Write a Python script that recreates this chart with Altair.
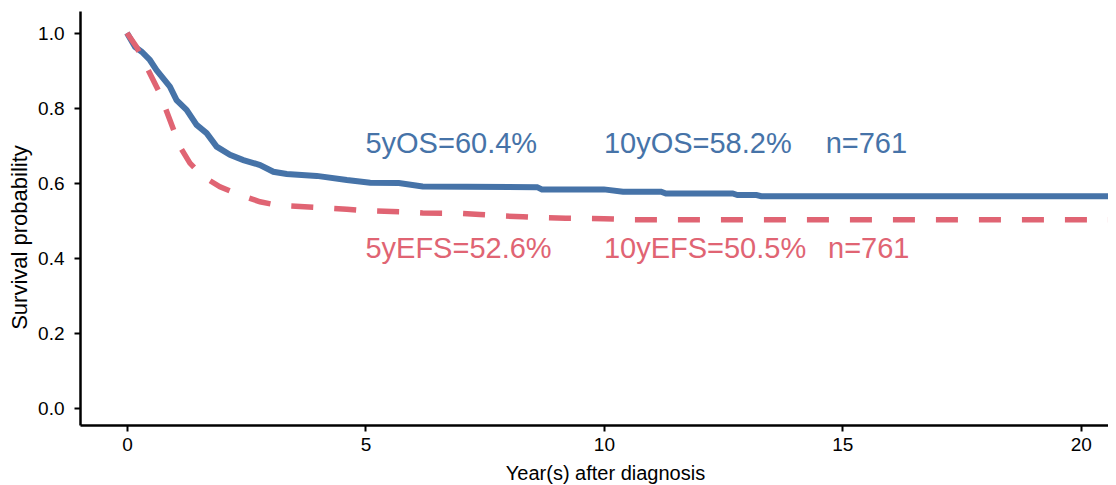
import altair as alt
import pandas as pd

# Overall survival (OS) curve
os_time = [0, 0.17, 0.31, 0.48, 0.62, 0.76, 0.90, 1.04, 1.25, 1.46, 1.67, 1.88, 2.16,
           2.44, 2.79, 3.07, 3.35, 3.98, 4.61, 5.1, 5.7, 6.2, 8.6, 8.7, 10.0, 10.4,
           11.2, 11.3, 12.7, 12.8, 13.2, 13.3, 20.6]
os_surv = [1.0, 0.963, 0.950, 0.928, 0.901, 0.879, 0.857, 0.821, 0.795, 0.755, 0.733,
           0.697, 0.675, 0.661, 0.648, 0.630, 0.624, 0.619, 0.608, 0.601, 0.600, 0.591,
           0.589, 0.583, 0.583, 0.577, 0.577, 0.572, 0.572, 0.568, 0.568, 0.565, 0.565]

# Event-free survival (EFS) curve
efs_time = [0, 0.2, 0.41, 0.69, 0.90, 1.11, 1.32, 1.60, 1.95, 2.37, 2.79, 3.14, 3.98,
            4.61, 5.0, 5.8, 6.2, 7.0, 7.4, 7.9, 8.3, 8.6, 9.2, 10.0, 10.6, 20.6]
efs_surv = [1.0, 0.963, 0.91, 0.839, 0.768, 0.697, 0.653, 0.617, 0.590, 0.568, 0.550,
            0.541, 0.535, 0.530, 0.526, 0.523, 0.520, 0.519, 0.516, 0.512, 0.510, 0.508,
            0.506, 0.505, 0.502, 0.502]

# Annotations
os_labels = ["5yOS=60.4%", "10yOS=58.2%", "n=761"]
os_label_x = [5.0, 10.0, 14.65]
os_label_y = [0.68, 0.68, 0.68]
efs_labels = ["5yEFS=52.6%", "10yEFS=50.5%", "n=761"]
efs_label_x = [5.0, 10.0, 14.7]
efs_label_y = [0.40, 0.40, 0.40]

BLUE = "#4673a8"
RED = "#e06473"
FONT = "Liberation Sans"

df_os = pd.DataFrame({"t": os_time, "s": os_surv})
df_efs = pd.DataFrame({"t": efs_time, "s": efs_surv})
df_os_lab = pd.DataFrame({"t": os_label_x, "s": os_label_y, "label": os_labels})
df_efs_lab = pd.DataFrame({"t": efs_label_x, "s": efs_label_y, "label": efs_labels})

xscale = alt.Scale(domain=[-0.985, 20.57], nice=False, zero=False)
yscale = alt.Scale(domain=[-0.0453, 1.0587], nice=False, zero=False)

xaxis = alt.Axis(title="Year(s) after diagnosis", values=[0, 5, 10, 15, 20], format="d",
                 grid=False, domainColor="black", domainWidth=2.5, tickColor="black",
                 tickWidth=2, tickSize=6, labelFontSize=19, labelPadding=4,
                 labelColor="black", titleFontSize=20, titleFontWeight="normal",
                 titleColor="black", titleBaseline="middle", titleY=48, titleX=525,
                 labelFont=FONT, titleFont=FONT)
yaxis = alt.Axis(title="Survival probability", values=[0, 0.2, 0.4, 0.6, 0.8, 1.0],
                 format=".1f", grid=False, domainColor="black", domainWidth=2.5,
                 tickColor="black", tickWidth=2, tickSize=6, labelFontSize=19,
                 labelPadding=10, labelColor="black", titleFontSize=22,
                 titleFontWeight="normal", titleColor="black", titlePadding=6,
                 titleY=226, labelFont=FONT, titleFont=FONT)

os_line = alt.Chart(df_os).mark_line(color=BLUE, strokeWidth=6, clip=True).encode(
    x=alt.X("t:Q", scale=xscale, axis=xaxis),
    y=alt.Y("s:Q", scale=yscale, axis=yaxis),
)
efs_line = alt.Chart(df_efs).mark_line(color=RED, strokeWidth=5.5, strokeDash=[22, 21],
                                       clip=True).encode(
    x=alt.X("t:Q", scale=xscale),
    y=alt.Y("s:Q", scale=yscale),
)
os_text = alt.Chart(df_os_lab).mark_text(align="left", baseline="alphabetic",
                                         fontSize=29, font=FONT, color=BLUE).encode(
    x=alt.X("t:Q", scale=xscale), y=alt.Y("s:Q", scale=yscale), text="label:N")
efs_text = alt.Chart(df_efs_lab).mark_text(align="left", baseline="alphabetic",
                                           fontSize=29, font=FONT, color=RED).encode(
    x=alt.X("t:Q", scale=xscale), y=alt.Y("s:Q", scale=yscale), text="label:N")

chart = alt.layer(os_line, efs_line, os_text, efs_text).properties(
    width=1028, height=414,
    autosize=alt.AutoSizeParams(type="none"),
    padding={"left": 72, "top": 3, "right": 0, "bottom": 62},
    background="white",
).configure_view(stroke=None)

chart.save("out.html", embed_options={"renderer": "svg", "actions": False})
